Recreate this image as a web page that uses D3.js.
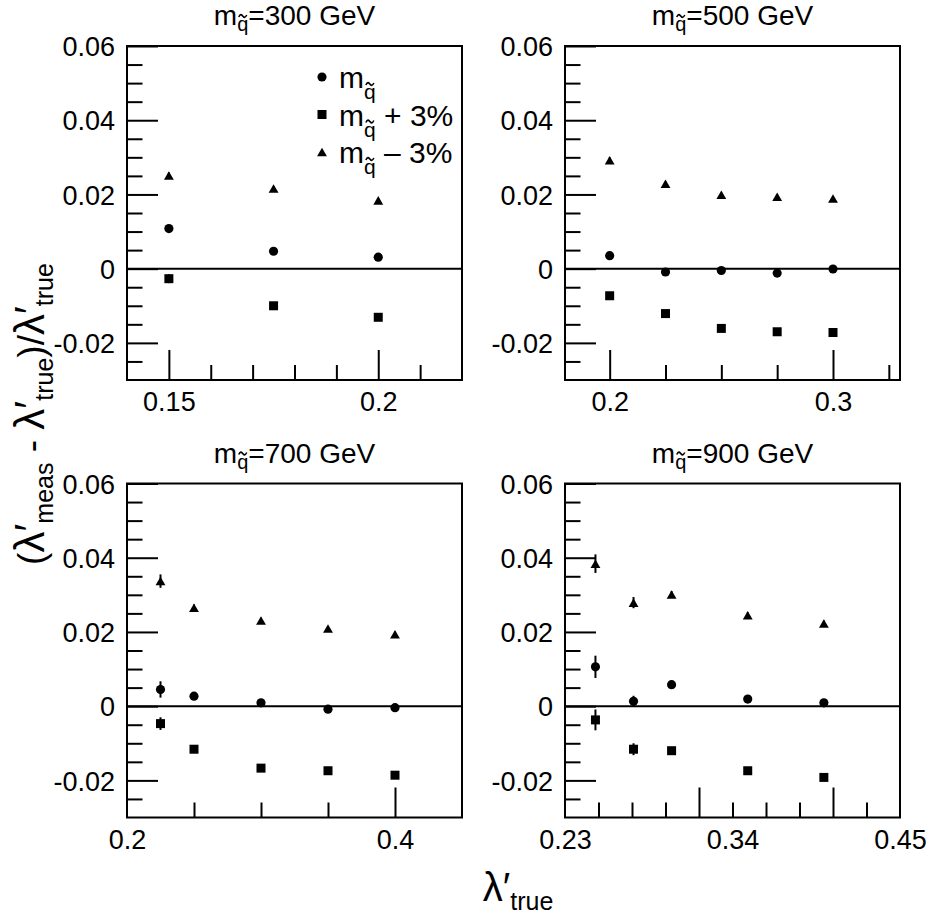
<!DOCTYPE html>
<html>
<head>
<meta charset="utf-8">
<script src="https://cdn.jsdelivr.net/npm/d3@7"></script>
<style>
    body { margin: 0; background: #fff; }
    text { font-family: "Liberation Sans", Arial, sans-serif; fill: #000; }
</style>
</head>
<body>
<svg id="chart"></svg>
<script>
var WIDTH = 930;
var HEIGHT = 918;

// squark masses (GeV), one panel each
var masses = ["300", "500", "700", "900"];

// lambda'_true values
var x300 = [0.15, 0.175, 0.2];
var x500 = [0.2, 0.225, 0.25, 0.275, 0.3];
var x700 = [0.225, 0.25, 0.3, 0.35, 0.4];
var x900 = [0.25, 0.275, 0.3, 0.35, 0.4];

// nominal mass (circles)
var nom300 = [0.0108, 0.0047, 0.0031];
var nom500 = [0.0035, -0.0009, -0.0005, -0.0012, -0.0001];
var nom700 = [0.0045, 0.0027, 0.0009, -0.0008, -0.0004];
var nom900 = [0.0106, 0.0013, 0.0058, 0.0019, 0.0009];

// mass + 3% (squares)
var plus300 = [-0.0027, -0.0100, -0.0131];
var plus500 = [-0.0073, -0.0121, -0.0161, -0.0170, -0.0172];
var plus700 = [-0.0047, -0.0116, -0.0167, -0.0174, -0.0186];
var plus900 = [-0.0037, -0.0116, -0.0120, -0.0174, -0.0192];

// mass - 3% (triangles)
var minus300 = [0.0251, 0.0216, 0.0184];
var minus500 = [0.0292, 0.0229, 0.0199, 0.0194, 0.0189];
var minus700 = [0.0337, 0.0265, 0.0231, 0.0209, 0.0194];
var minus900 = [0.0384, 0.0279, 0.0301, 0.0245, 0.0223];

// errors
var errNom300 = [0.0007, 0.0006, 0.0006];
var errNom500 = [0.0008, 0.0006, 0.0006, 0.0006, 0.0006];
var errNom700 = [0.0022, 0.0009, 0.0007, 0.0007, 0.0007];
var errNom900 = [0.0030, 0.0015, 0.0009, 0.0008, 0.0008];
var errPlus300 = [0.0012, 0.0007, 0.0007];
var errPlus500 = [0.0008, 0.0006, 0.0006, 0.0006, 0.0006];
var errPlus700 = [0.0017, 0.0009, 0.0007, 0.0007, 0.0007];
var errPlus900 = [0.0028, 0.0016, 0.0009, 0.0008, 0.0008];
var errMinus300 = [0.0008, 0.0006, 0.0006];
var errMinus500 = [0.0008, 0.0006, 0.0006, 0.0006, 0.0006];
var errMinus700 = [0.0018, 0.0009, 0.0007, 0.0007, 0.0007];
var errMinus900 = [0.0025, 0.0015, 0.0009, 0.0008, 0.0008];

// axes
var yDomain = [-0.03, 0.06];
var yMajor = [-0.02, 0, 0.02, 0.04, 0.06];
var yMinor = [-0.025, -0.015, -0.01, -0.005, 0.005, 0.01, 0.015, 0.025, 0.03, 0.035, 0.045, 0.05, 0.055];

var xDomains = [[0.14, 0.22], [0.18, 0.33], [0.2, 0.45], [0.23, 0.45]];
var xLabels = [[0.15, 0.2], [0.2, 0.3], [0.2, 0.4], [0.23, 0.34, 0.45]];
var xMajor = [[0.15, 0.2], [0.2, 0.3], [0.4], [0.318, 0.406]];
var xMinor = [
    [0.16, 0.17, 0.18, 0.19, 0.21],
    [0.225, 0.25, 0.275, 0.325],
    [0.25, 0.3, 0.35],
    [0.252, 0.274, 0.296, 0.34, 0.362, 0.384, 0.428]
];

var legendLabels = ["", " + 3%", " \u2013 3%"];

var PW = 335, PH = 334;
var lefts = [127, 565, 127, 565];
var tops = [46, 46, 483.5, 483.5];

var svg = d3.select("#chart")
    .attr("width", WIDTH)
    .attr("height", HEIGHT);

var panelData = [
    {x: x300, s: [[nom300, errNom300], [plus300, errPlus300], [minus300, errMinus300]]},
    {x: x500, s: [[nom500, errNom500], [plus500, errPlus500], [minus500, errMinus500]]},
    {x: x700, s: [[nom700, errNom700], [plus700, errPlus700], [minus700, errMinus700]]},
    {x: x900, s: [[nom900, errNom900], [plus900, errPlus900], [minus900, errMinus900]]}
];

var symbolTypes = [d3.symbolCircle, d3.symbolSquare, d3.symbolTriangle];
var symbolSizes = [66, 81, 42];

function marker(sel, k) {
    sel.attr("d", d3.symbol().type(symbolTypes[k]).size(symbolSizes[k])());
    // centre triangle on its bounding box
    return k == 2 ? Math.sqrt(symbolSizes[k] / (Math.sqrt(3) * 3)) / 2 : 0;
}

function addRich(text, parts, subSize, subOff) {
    var cur = 0;
    parts.forEach(function(p) {
        var off = p.sub ? subOff : 0;
        var ts = text.append("tspan").attr("dy", off - cur).text(p.t);
        if (p.sub) ts.attr("font-size", subSize);
        if (p.size) ts.attr("font-size", p.size);
        cur = off;
    });
}

// small tilde drawn as a path over character idx
function addTilde(g, text, idx, w, yc) {
    var r = text.node().getExtentOfChar(idx);
    var cx = r.x + r.width / 2;
    var p = d3.path();
    p.moveTo(cx - w / 2, yc + 1);
    p.bezierCurveTo(cx - w / 4, yc - 3, cx - w / 8, yc - 1, cx, yc);
    p.bezierCurveTo(cx + w / 8, yc + 1, cx + w / 4, yc + 3, cx + w / 2, yc - 1);
    g.append("path").attr("d", p.toString())
        .attr("fill", "none").attr("stroke", "#000").attr("stroke-width", 1.6);
}

function fmt(d) { return d === 0 ? "0" : String(+d.toFixed(3)); }

panelData.forEach(function(p, i) {
    var g = svg.append("g").attr("transform", "translate(" + lefts[i] + "," + tops[i] + ")");
    var x = d3.scaleLinear().domain(xDomains[i]).range([0, PW]);
    var y = d3.scaleLinear().domain(yDomain).range([PH, 0]);

    // y axis ticks (inward) and labels
    var yl = g.append("g").call(d3.axisLeft(y).tickValues(yMajor).tickSize(-31).tickPadding(12).tickFormat(fmt));
    g.append("g").call(d3.axisLeft(y).tickValues(yMinor).tickSize(-15.5).tickFormat(""));

    // x axis
    var xb = g.append("g").attr("transform", "translate(0," + PH + ")");
    xb.append("g").call(d3.axisBottom(x).tickValues(xMajor[i]).tickSize(-30).tickFormat(""));
    xb.append("g").call(d3.axisBottom(x).tickValues(xMinor[i]).tickSize(-15).tickFormat(""));
    xb.append("g").call(d3.axisBottom(x).tickValues(xLabels[i]).tickSize(0).tickPadding(12).tickFormat(fmt));

    g.selectAll(".domain").remove();
    g.selectAll(".tick line").attr("stroke-width", 2);
    g.selectAll(".tick text").attr("font-size", 27).attr("font-family", "Liberation Sans, Arial, sans-serif");
    yl.selectAll(".tick text").attr("dy", "0.36em");

    // frame and zero line
    g.append("rect").attr("width", PW).attr("height", PH)
        .attr("fill", "none").attr("stroke", "#000").attr("stroke-width", 2);
    g.append("line").attr("x1", 0).attr("x2", PW).attr("y1", y(0)).attr("y2", y(0))
        .attr("stroke", "#000").attr("stroke-width", 2);

    // series
    p.s.forEach(function(s, k) {
        var vals = s[0], errs = s[1];
        var pts = p.x.map(function(xv, j) { return {x: xv, v: vals[j], e: errs[j]}; });
        g.selectAll(".err" + k).data(pts).enter().append("line")
            .attr("x1", function(d) { return x(d.x); })
            .attr("x2", function(d) { return x(d.x); })
            .attr("y1", function(d) { return y(d.v - d.e); })
            .attr("y2", function(d) { return y(d.v + d.e); })
            .attr("stroke", "#000").attr("stroke-width", 2);
        g.selectAll(".m" + k).data(pts).enter().append("path")
            .each(function(d) {
                var shift = marker(d3.select(this), k);
                d3.select(this).attr("transform", "translate(" + x(d.x) + "," + (y(d.v) + shift) + ")");
            })
            .attr("fill", "#000");
    });

    // panel title
    var title = g.append("text")
        .attr("x", PW / 2).attr("y", -21)
        .attr("text-anchor", "middle")
        .attr("font-size", 28);
    addRich(title, [{t: "m"}, {t: "q", sub: true}, {t: "=" + masses[i] + " GeV"}], 20, 6);
    addTilde(g, title, 1, 8, -21 - 9);

    // legend in first panel
    if (i == 0) {
        legendLabels.forEach(function(lab, k) {
            var base = 42 + k * 37.5;
            var m = g.append("path").attr("fill", "#000");
            var shift = marker(m, k);
            m.attr("transform", "translate(195," + (base - 11 + shift) + ")");
            var t = g.append("text").attr("x", 212).attr("y", base).attr("font-size", 30);
            addRich(t, [{t: "m"}, {t: "q", sub: true}, {t: lab}], 21, 11);
            addTilde(g, t, 1, 8, base - 4);
        });
    }
});

// axis titles
var L = "\u03bb\u2032";
var ytitle = svg.append("text")
    .attr("transform", "translate(44,414) rotate(-90)")
    .attr("text-anchor", "middle")
    .attr("font-size", 37);
addRich(ytitle, [
    {t: "("}, {t: L, size: 42}, {t: "meas", sub: true},
    {t: " - "}, {t: L, size: 42}, {t: "true", sub: true},
    {t: ")/"}, {t: L, size: 42}, {t: "true", sub: true}
], 25, 9);

var xtitle = svg.append("text")
    .attr("x", 518).attr("y", 901)
    .attr("text-anchor", "middle")
    .attr("font-size", 40);
addRich(xtitle, [{t: L}, {t: "true", sub: true}], 25, 9);
</script>
</body>
</html>
